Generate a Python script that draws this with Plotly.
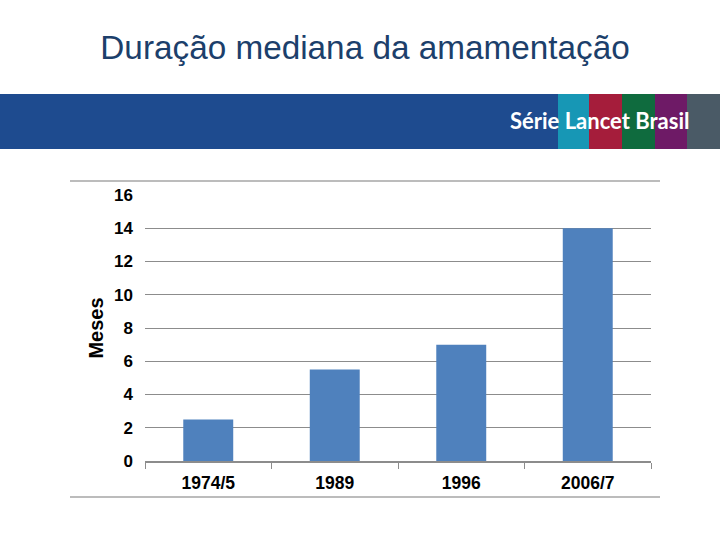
import plotly.graph_objects as go

categories = ["1974/5", "1989", "1996", "2006/7"]
values = [2.5, 5.5, 7, 14]
y_ticks = [0, 2, 4, 6, 8, 10, 12, 14, 16]

W, H = 720, 540
L, R, T, B = 145, 69, 195, 79  # plot area 145..651 x, 195..461 y
pw, ph = W - L - R, H - T - B

def px(x):
    return (x - L) / pw

def py(y):
    return (H - B - y) / ph

fig = go.Figure()
fig.add_trace(go.Bar(
    x=categories, y=values,
    marker=dict(color="#4f81bd", line=dict(width=0)),
    width=0.395,
))

shapes = []
# banner
shapes.append(dict(type="rect", xref="paper", yref="paper", x0=px(0), x1=px(720), y0=py(149), y1=py(94),
                   fillcolor="#1e4b8f", line=dict(width=0), layer="below"))
stripe_cols = ["#1797b5", "#a51d3b", "#0f6b3e", "#6e1a66", "#4a5a66"]
stripe_x = [558, 589, 622, 655, 687, 720]
for i, c in enumerate(stripe_cols):
    shapes.append(dict(type="rect", xref="paper", yref="paper", x0=px(stripe_x[i]), x1=px(stripe_x[i + 1]),
                       y0=py(149), y1=py(94), fillcolor=c, line=dict(width=0), layer="below"))
# frame lines
for yy in (181, 497):
    shapes.append(dict(type="line", xref="paper", yref="paper", x0=px(70), x1=px(660), y0=py(yy), y1=py(yy),
                       line=dict(color="#a6a6a6", width=1.5)))

fig.update_layout(
    width=W, height=H,
    margin=dict(l=L, r=R, t=T, b=B),
    paper_bgcolor="white", plot_bgcolor="white",
    showlegend=False,
    shapes=shapes,
    title=dict(text="Duração mediana da amamentação", x=365 / W, xanchor="center", xref="container",
               y=1 - 47 / H, yanchor="middle",
               font=dict(family="Liberation Sans, Arial", size=33.3, color="#1c3f6b")),
    annotations=[
        dict(text="<b>Série Lancet Brasil</b>", xref="paper", yref="paper", x=px(691), y=py(121),
             xanchor="right", yanchor="middle", showarrow=False,
             font=dict(family="Lato, Open Sans", size=22, color="white")),
    ],
    xaxis=dict(
        type="category", tickson="boundaries", ticks="outside", ticklen=6, tickcolor="#8c8c8c",
        showline=True, linecolor="#8c8c8c", linewidth=1.5, showgrid=False, ticklabelstandoff=5,
        tickfont=dict(family="Liberation Sans, Arial", size=17.5, color="black", weight="bold"),
    ),
    yaxis=dict(
        range=[0, 16], tickvals=y_ticks, showgrid=True, gridcolor="#8c8c8c", gridwidth=1,
        zeroline=False, showline=False, ticks="", ticklabelstandoff=11,
        tickfont=dict(family="Liberation Sans, Arial", size=17, color="black", weight="bold"),
        title=dict(text="Meses", standoff=5,
                   font=dict(family="Liberation Sans, Arial", size=20, color="black", weight="bold")),
    ),
)

fig.write_html("out.html", config={"displayModeBar": False},
               post_script="document.body.style.margin='0';")
